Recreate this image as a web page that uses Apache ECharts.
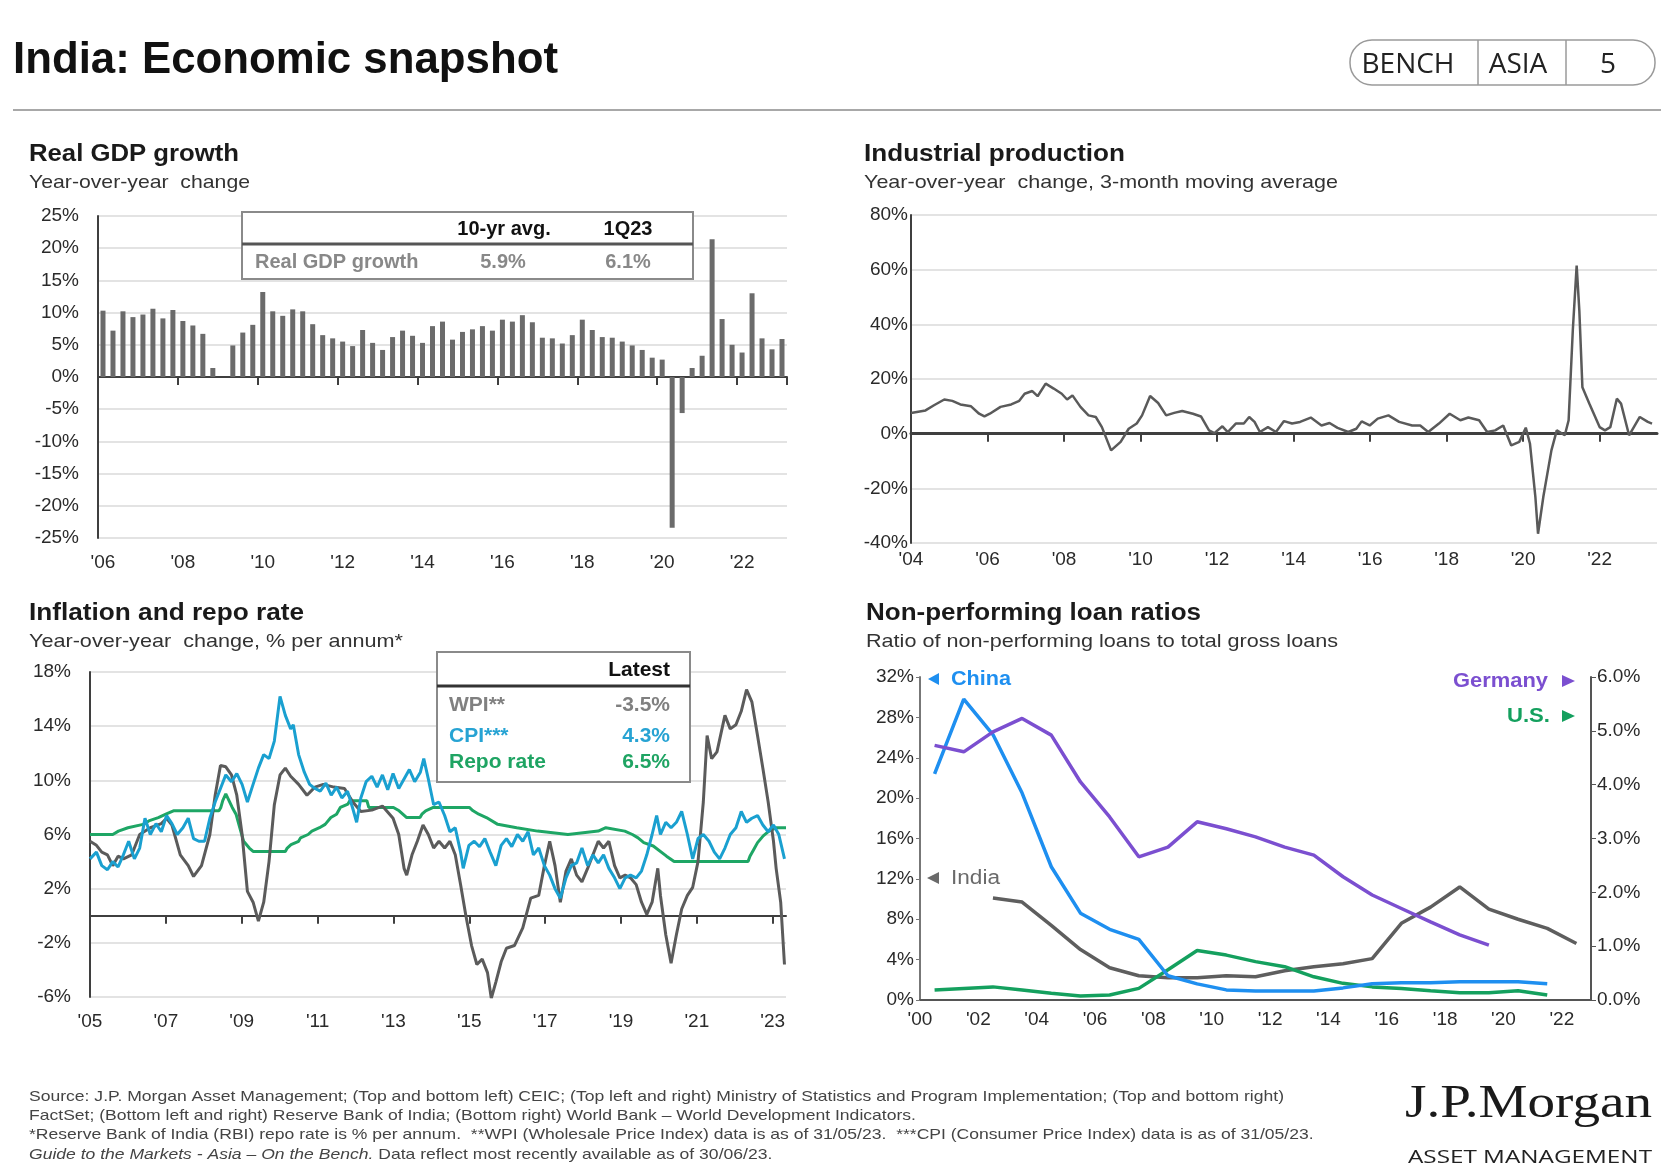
<!DOCTYPE html>
<html>
<head>
<meta charset="utf-8">
<script src="https://cdn.jsdelivr.net/npm/echarts@6/dist/echarts.min.js"></script>
<style>html,body{margin:0;padding:0;background:#fff}#c{width:1674px;height:1174px}</style>
</head>
<body>
<div id="c"></div>
<script>
// ---------------- DATA ----------------
// Real GDP growth, quarterly 1Q06 .. 1Q23 (% y/y)
const gdpStartYear = 2006;
const gdpGrowth = [10.3,7.2,10.2,9.3,9.7,10.6,9.1,10.4,8.7,8.0,
  6.7,1.4,0,4.9,6.9,8.1,13.2,10.2,9.5,10.5,
  10.2,8.2,6.5,6.0,5.5,4.8,7.3,5.3,4.2,6.2,
  7.2,6.4,5.3,7.9,8.6,5.8,7.0,7.4,7.9,7.2,
  8.9,8.6,9.6,8.5,6.1,6.0,5.2,6.5,8.9,7.3,
  6.2,6.1,5.5,4.9,4.2,3.0,2.7,-23.4,-5.6,1.4,
  3.3,21.4,9.0,5.0,3.8,13.0,6.0,4.3,5.9];
const gdpQuarters = gdpGrowth.map((_, i) => (i % 4 + 1) + 'Q' + String(gdpStartYear + Math.floor(i / 4)).slice(2));
const gdpTableHead = ['10-yr avg.', '1Q23'];
const gdpTableRow = ['Real GDP growth', '5.9%', '6.1%'];

// Industrial production, y/y 3mma (%)
const ipDates = [2004.00,2004.38,2004.59,2004.87,2005.08,2005.29,2005.57,2005.78,2005.92,2006.06,
  2006.34,2006.62,2006.83,2006.97,2007.17,2007.31,2007.52,2007.73,2007.94,2008.08,
  2008.22,2008.43,2008.64,2008.83,2008.99,2009.23,2009.48,2009.69,2009.90,2010.04,
  2010.25,2010.46,2010.67,2010.88,2011.09,2011.37,2011.58,2011.79,2011.93,2012.14,
  2012.28,2012.49,2012.70,2012.84,2012.98,2013.12,2013.33,2013.54,2013.75,2013.96,
  2014.17,2014.45,2014.73,2014.94,2015.15,2015.43,2015.64,2015.78,2015.99,2016.20,
  2016.48,2016.76,2017.10,2017.31,2017.52,2017.80,2018.08,2018.36,2018.57,2018.85,
  2019.06,2019.27,2019.48,2019.69,2019.90,2020.07,2020.18,2020.32,2020.39,2020.53,
  2020.74,2020.88,2021.09,2021.19,2021.30,2021.40,2021.47,2021.55,2021.73,2022.00,
  2022.14,2022.28,2022.45,2022.56,2022.77,2023.05,2023.26,2023.37];
const ipValues = [7.6,8.5,10.3,12.5,12.0,10.7,10.0,7.3,6.3,7.3,
  9.8,10.7,12.0,14.6,15.6,13.7,18.3,16.5,14.6,12.5,
  14.0,9.8,6.7,6.1,2.4,-6.1,-3.0,1.8,3.7,6.7,
  13.8,11.2,6.7,7.6,8.3,7.3,6.3,1.2,0.2,2.7,
  0.6,3.7,3.7,6.1,4.3,0.6,2.4,0.6,4.6,3.7,
  4.3,5.9,3.0,3.9,2.1,0.6,1.8,4.5,3.0,5.5,
  6.7,4.3,3.0,3.0,0.6,3.7,7.3,4.9,5.9,4.9,
  0.6,1.2,3.0,-4.3,-3.0,2.2,-3.7,-23.0,-36.6,-23.0,
  -6.1,1.2,-0.6,4.9,38.0,61.5,45.0,17.0,11.0,2.4,
  1.2,2.4,12.8,11.0,-0.6,6.1,4.3,3.7];

// Inflation and repo rate (%)
const wpiDates = [2005.00,2005.17,2005.31,2005.46,2005.60,2005.74,2005.88,2006.10,2006.31,2006.59,
  2006.88,2007.02,2007.16,2007.38,2007.59,2007.73,2007.94,2008.16,2008.30,2008.44,
  2008.58,2008.73,2008.87,2009.01,2009.15,2009.30,2009.44,2009.58,2009.72,2009.86,
  2010.01,2010.15,2010.29,2010.50,2010.72,2010.93,2011.15,2011.43,2011.71,2011.93,
  2012.14,2012.43,2012.71,2012.99,2013.14,2013.28,2013.35,2013.49,2013.63,2013.78,
  2013.92,2014.06,2014.20,2014.35,2014.49,2014.63,2014.77,2014.91,2015.06,2015.20,
  2015.34,2015.48,2015.58,2015.70,2015.84,2015.98,2016.19,2016.41,2016.62,2016.83,
  2016.98,2017.12,2017.26,2017.40,2017.55,2017.69,2017.83,2017.97,2018.12,2018.26,
  2018.40,2018.54,2018.68,2018.83,2018.97,2019.11,2019.25,2019.40,2019.54,2019.68,
  2019.82,2019.97,2020.04,2020.18,2020.32,2020.46,2020.60,2020.75,2020.89,2021.03,
  2021.17,2021.27,2021.39,2021.53,2021.74,2021.88,2022.03,2022.17,2022.31,2022.45,
  2022.60,2022.74,2022.88,2023.02,2023.09,2023.21,2023.31];
const wpiValues = [5.5,5.2,4.7,4.5,3.7,4.4,4.2,4.5,6.0,6.5,
  6.8,7.2,6.7,4.5,3.7,2.9,3.7,6.0,8.9,11.1,
  11.0,10.4,8.9,6.0,1.8,1.0,-0.4,1.0,4.0,8.2,
  10.4,10.9,10.3,9.7,8.9,9.5,9.7,9.5,9.4,8.4,
  7.7,7.8,8.1,7.2,6.0,3.5,3.0,4.5,5.5,6.7,
  6.0,5.0,5.5,5.0,5.5,4.5,2.3,0.0,-2.2,-3.6,
  -3.2,-4.2,-6.1,-4.9,-3.4,-2.4,-2.2,-0.9,1.3,1.5,
  3.7,5.5,3.7,1.0,3.3,4.2,3.0,2.5,3.5,4.5,
  5.5,5.0,5.5,3.7,2.8,3.0,2.8,2.3,1.0,0.1,
  1.0,3.5,1.5,-1.4,-3.5,-1.4,0.5,1.5,2.1,4.0,
  8.4,13.3,11.6,12.1,14.8,13.8,14.1,15.1,16.7,15.8,
  13.3,10.9,8.4,5.5,3.5,1.0,-3.6];
const cpiDates = [2005.00,2005.17,2005.31,2005.46,2005.60,2005.74,2005.88,2006.02,2006.17,2006.31,
  2006.45,2006.59,2006.74,2006.88,2007.02,2007.16,2007.30,2007.45,2007.59,2007.73,
  2007.87,2008.02,2008.16,2008.30,2008.44,2008.58,2008.73,2008.87,2009.01,2009.15,
  2009.30,2009.44,2009.58,2009.72,2009.86,2010.01,2010.15,2010.29,2010.36,2010.50,
  2010.65,2010.79,2010.93,2011.07,2011.22,2011.36,2011.50,2011.64,2011.79,2011.93,
  2012.03,2012.14,2012.28,2012.43,2012.57,2012.71,2012.85,2012.99,2013.14,2013.28,
  2013.42,2013.56,2013.71,2013.80,2013.92,2014.06,2014.20,2014.35,2014.49,2014.63,
  2014.77,2014.84,2014.99,2015.13,2015.27,2015.41,2015.55,2015.70,2015.84,2015.98,
  2016.12,2016.27,2016.41,2016.55,2016.69,2016.83,2016.98,2017.12,2017.26,2017.40,
  2017.55,2017.69,2017.83,2017.97,2018.12,2018.26,2018.40,2018.54,2018.68,2018.83,
  2018.97,2019.11,2019.25,2019.40,2019.54,2019.68,2019.82,2019.94,2020.04,2020.18,
  2020.32,2020.46,2020.60,2020.75,2020.89,2021.03,2021.17,2021.32,2021.46,2021.60,
  2021.74,2021.88,2022.03,2022.17,2022.31,2022.45,2022.60,2022.74,2022.88,2023.02,
  2023.16,2023.31];
const cpiValues = [4.2,4.7,3.7,3.4,4.0,3.6,4.5,5.5,4.2,5.0,
  7.2,6.0,6.8,6.2,7.4,6.8,6.0,6.5,7.2,5.7,
  5.5,5.5,7.2,8.4,9.4,10.4,9.9,10.5,9.7,8.4,
  9.7,10.9,11.9,11.6,12.9,16.2,14.8,13.8,14.1,11.9,
  10.6,9.7,9.4,9.2,9.8,8.9,9.5,8.7,9.2,7.9,
  6.9,8.7,9.9,10.3,9.5,10.4,9.3,10.5,9.4,10.1,
  10.8,9.9,10.6,11.6,10.1,8.2,8.4,7.4,6.2,6.5,
  4.7,3.5,5.2,5.5,5.1,5.7,4.7,3.7,5.2,5.7,
  5.1,6.0,5.5,6.2,4.5,5.0,3.7,3.0,2.0,1.3,
  2.8,3.7,3.9,5.0,3.7,4.5,3.9,4.5,3.5,2.8,
  2.0,2.8,3.0,2.8,3.3,4.5,6.0,7.4,6.0,6.9,
  6.5,6.9,7.7,6.0,4.2,5.7,6.0,5.5,4.7,4.2,
  5.0,6.0,6.5,7.7,6.9,7.2,7.4,6.7,6.2,6.7,
  6.0,4.2];
const repoDates = [2005.0,2005.6,2005.75,2006.0,2006.4,2006.55,2006.8,2007.0,2007.2,2008.4,
  2008.45,2008.5,2008.58,2008.75,2008.85,2008.95,2009.05,2009.2,2009.3,2010.15,
  2010.2,2010.3,2010.5,2010.55,2010.75,2010.85,2011.05,2011.2,2011.35,2011.5,
  2011.6,2011.8,2011.85,2012.3,2012.35,2013.0,2013.15,2013.35,2013.7,2013.75,
  2013.85,2014.05,2015.0,2015.1,2015.25,2015.45,2015.75,2016.25,2016.8,2017.6,
  2018.4,2018.6,2019.1,2019.3,2019.45,2019.6,2019.85,2020.2,2020.4,2022.35,
  2022.4,2022.5,2022.6,2022.75,2022.9,2023.1,2023.35];
const repoValues = [6.0,6.0,6.25,6.5,6.75,7.0,7.25,7.5,7.75,7.75,
  8.0,8.5,9.0,8.0,7.5,6.5,5.5,5.0,4.75,4.75,
  5.0,5.25,5.5,5.75,6.0,6.25,6.5,6.75,7.25,7.5,
  8.0,8.25,8.5,8.5,8.0,8.0,7.75,7.25,7.25,7.5,
  7.75,8.0,8.0,7.75,7.5,7.25,6.75,6.5,6.25,6.0,
  6.25,6.5,6.25,6.0,5.75,5.4,5.15,4.4,4.0,4.0,
  4.4,4.9,5.4,5.9,6.25,6.5,6.5];
const inflTableHead = 'Latest';
const inflTableRows = [['WPI**', '-3.5%'], ['CPI***', '4.3%'], ['Repo rate', '6.5%']];

// Non-performing loan ratios (% of gross loans), annual
const nplYears = [2000,2001,2002,2003,2004,2005,2006,2007,2008,2009,2010,2011,2012,2013,2014,2015,2016,2017,2018,2019,2020,2021,2022];
const chinaNPL = [22.4,29.8,26.3,20.5,13.2,8.6,7.0,6.0,2.4,1.6,1.0,0.9,0.9,0.9,1.2,1.6,1.7,1.7,1.8,1.8,1.8,1.6,null];
const indiaNPL = [null,null,10.1,9.7,7.4,5.0,3.2,2.4,2.2,2.2,2.4,2.3,2.9,3.3,3.6,4.1,7.6,9.2,11.2,9.0,8.0,7.1,5.6];
const germanyNPL = [4.73,4.61,4.98,5.23,4.92,4.05,3.40,2.66,2.84,3.31,3.18,3.03,2.84,2.69,2.29,1.95,1.70,1.45,1.21,1.02,null,null,null];
const usNPL = [1.0,1.15,1.3,1.0,0.66,0.4,0.5,1.15,3.0,4.9,4.45,3.8,3.3,2.3,1.65,1.3,1.15,0.92,0.73,0.73,0.92,0.5,null];

// ---------------- HELPERS ----------------
const FONT = "'Liberation Sans', Arial, sans-serif";
const SERIF = "'Liberation Serif', 'Times New Roman', serif";
const OPEN = "'Open Sans', 'Liberation Sans', sans-serif";
const mctx = document.createElement('canvas').getContext('2d');
function textWidth(str, size, weight, family, style) {
  mctx.font = (style || 'normal') + ' ' + (weight || 'normal') + ' ' + size + 'px ' + family;
  return mctx.measureText(str).width;
}
function txt(str, x, y, o) {
  o = o || {};
  const size = o.size || 16, weight = o.weight || 'normal', family = o.family || FONT, fstyle = o.style || 'normal';
  const sx = o.scale ? o.scale : (o.width ? o.width / textWidth(str, size, weight, family, fstyle) : 1);
  const al = o.align || 'left';
  return { type: 'text', x: x, y: y, scaleX: sx, z: 100, silent: true,
    style: { text: str, fontSize: size, fontWeight: weight, fontFamily: family, fontStyle: fstyle,
      fill: o.color || '#1a1a1a', textAlign: al, align: al, textVerticalAlign: 'middle', verticalAlign: 'middle' } };
}
function pairs(xs, ys, off) { const out = []; xs.forEach((x, i) => { if (ys[i] !== null && ys[i] !== undefined) out.push([x + (off || 0), ys[i]]); }); return out; }
function evenYears(a, b) { const r = []; for (let y = a; y <= b; y += 2) r.push(y); return r; }
const yy = v => "'" + String(Math.round(v)).slice(2);

const AX = '#3f3f3f', GRID = '#dadada', LBL = '#2a2a2a';
const axisLabelBase = { color: LBL, fontFamily: FONT, fontSize: 19 };

// ---------------- GRAPHICS ----------------
const g = [];
g.push(txt('India: Economic snapshot', 13, 61, { size: 44, weight: 'bold', width: 545, color: '#111' }));
g.push({ type: 'rect', z: 100, shape: { x: 1350, y: 40, width: 305, height: 45, r: 22 }, style: { fill: '#fff', stroke: '#9a9a9a', lineWidth: 1.5 } });
g.push({ type: 'line', z: 100, shape: { x1: 1478, y1: 40, x2: 1478, y2: 85 }, style: { stroke: '#9a9a9a', lineWidth: 1.5 } });
g.push({ type: 'line', z: 100, shape: { x1: 1566, y1: 40, x2: 1566, y2: 85 }, style: { stroke: '#9a9a9a', lineWidth: 1.5 } });
g.push(txt('BENCH', 1408, 65, { size: 28, family: OPEN, align: 'center', color: '#222' }));
g.push(txt('ASIA', 1518, 65, { size: 28, family: OPEN, align: 'center', color: '#222' }));
g.push(txt('5', 1608, 65, { size: 28, family: OPEN, align: 'center', color: '#222' }));
g.push({ type: 'line', z: 100, shape: { x1: 13, y1: 110, x2: 1661, y2: 110 }, style: { stroke: '#a8a8a8', lineWidth: 2 } });

// panel titles
g.push(txt('Real GDP growth', 29, 155, { size: 23, weight: 'bold', width: 210 }));
g.push(txt('Year-over-year  change', 29, 183, { size: 19, width: 221, color: '#333' }));
g.push(txt('Industrial production', 864, 155, { size: 23, weight: 'bold', width: 261 }));
g.push(txt('Year-over-year  change, 3-month moving average', 864, 183, { size: 19, width: 474, color: '#333' }));
g.push(txt('Inflation and repo rate', 29, 614, { size: 23, weight: 'bold', width: 275 }));
g.push(txt('Year-over-year  change, % per annum*', 29, 642, { size: 19, width: 374, color: '#333' }));
g.push(txt('Non-performing loan ratios', 866, 614, { size: 23, weight: 'bold', width: 335 }));
g.push(txt('Ratio of non-performing loans to total gross loans', 866, 642, { size: 19, width: 472, color: '#333' }));

// GDP table
g.push({ type: 'rect', z: 90, shape: { x: 242, y: 212, width: 451, height: 67 }, style: { fill: '#fff', stroke: '#8a8a8a', lineWidth: 2 } });
g.push({ type: 'line', z: 91, shape: { x1: 242, y1: 244, x2: 693, y2: 244 }, style: { stroke: '#555', lineWidth: 3 } });
g.push(txt(gdpTableHead[0], 504, 229, { size: 20, weight: 'bold', align: 'center', color: '#111' }));
g.push(txt(gdpTableHead[1], 628, 229, { size: 20, weight: 'bold', align: 'center', color: '#111' }));
g.push(txt(gdpTableRow[0], 255, 262, { size: 20, weight: 'bold', color: '#888' }));
g.push(txt(gdpTableRow[1], 503, 262, { size: 20, weight: 'bold', align: 'center', color: '#888' }));
g.push(txt(gdpTableRow[2], 628, 262, { size: 20, weight: 'bold', align: 'center', color: '#888' }));

// Inflation table
const inflColors = ['#808080', '#27a3d3', '#1fa463'];
const inflRowY = [705, 736, 762];
g.push({ type: 'rect', z: 90, shape: { x: 437, y: 652, width: 253, height: 130 }, style: { fill: '#fff', stroke: '#8a8a8a', lineWidth: 2 } });
g.push({ type: 'line', z: 91, shape: { x1: 437, y1: 686, x2: 690, y2: 686 }, style: { stroke: '#333', lineWidth: 3 } });
g.push(txt(inflTableHead, 670, 670, { size: 21, weight: 'bold', align: 'right', color: '#111' }));
inflTableRows.forEach((r, i) => {
  g.push(txt(r[0], 449, inflRowY[i], { size: 21, weight: 'bold', color: inflColors[i] }));
  g.push(txt(r[1], 670, inflRowY[i], { size: 21, weight: 'bold', align: 'right', color: inflColors[i] }));
});

// NPL labels
const CN = '#1e8ff0', IN = '#6a6a6a', DE = '#7b4fd0', US = '#14a05e';
g.push({ type: 'polygon', z: 100, shape: { points: [[928, 679], [939, 673], [939, 685]] }, style: { fill: CN } });
g.push(txt('China', 951, 679, { size: 20, weight: 'bold', width: 60, color: CN }));
g.push({ type: 'polygon', z: 100, shape: { points: [[927, 878], [939, 872], [939, 884]] }, style: { fill: IN } });
g.push(txt('India', 951, 878, { size: 20, width: 49, color: IN }));
g.push({ type: 'polygon', z: 100, shape: { points: [[1562, 675], [1562, 687], [1575, 681]] }, style: { fill: DE } });
g.push(txt('Germany', 1548, 681, { size: 20, weight: 'bold', width: 95, align: 'right', color: DE }));
g.push({ type: 'polygon', z: 100, shape: { points: [[1562, 710], [1562, 722], [1575, 716]] }, style: { fill: US } });
g.push(txt('U.S.', 1550, 716, { size: 20, weight: 'bold', width: 43, align: 'right', color: US }));

// Footer
const foot1 = 'Source: J.P. Morgan Asset Management; (Top and bottom left) CEIC; (Top left and right) Ministry of Statistics and Program Implementation; (Top and bottom right)';
const foot2 = 'FactSet; (Bottom left and right) Reserve Bank of India; (Bottom right) World Bank \u2013 World Development Indicators.';
const foot3 = '*Reserve Bank of India (RBI) repo rate is % per annum.  **WPI (Wholesale Price Index) data is as of 31/05/23.  ***CPI (Consumer Price Index) data is as of 31/05/23.';
const foot4a = 'Guide to the Markets - Asia \u2013 On the Bench.';
const foot4b = ' Data reflect most recently available as of 30/06/23.';
const FS = 15;
const fScale = 1255 / textWidth(foot1, FS, 'normal', FONT);
const FC = '#444';
const footY = [1097, 1116, 1135, 1155];
g.push(txt(foot1, 29, footY[0], { size: FS, scale: fScale, color: FC }));
g.push(txt(foot2, 29, footY[1], { size: FS, scale: fScale, color: FC }));
g.push(txt(foot3, 29, footY[2], { size: FS, scale: fScale, color: FC }));
g.push(txt(foot4a, 29, footY[3], { size: FS, scale: fScale, color: FC, style: 'italic' }));
const f4w = textWidth(foot4a, FS, 'normal', FONT, 'italic') * fScale;
g.push(txt(foot4b, 29 + f4w, footY[3], { size: FS, scale: fScale, color: FC }));

// Logo
g.push(txt('J.P.Morgan', 1405, 1105, { size: 47, family: SERIF, width: 247, color: '#1a1a1a' }));
g.push(txt('ASSET MANAGEMENT', 1408, 1158, { size: 19, family: OPEN, width: 244, color: '#222' }));

// ---------------- CHART ----------------
const chart = echarts.init(document.getElementById('c'), null, { renderer: 'canvas' });
const option = {
  backgroundColor: '#fff',
  animation: false,
  grid: [
    { left: 98, top: 216, width: 689, height: 322 },
    { left: 911, top: 215, width: 746, height: 328 },
    { left: 90, top: 672, width: 696, height: 325 },
    { left: 920, top: 677, width: 671, height: 323 }
  ],
  xAxis: [
    { type: 'category', gridIndex: 0, position: 'bottom', data: gdpQuarters,
      axisLine: { show: false, onZero: false }, axisTick: { show: false }, splitLine: { show: false },
      axisLabel: Object.assign({}, axisLabelBase, { interval: 7, margin: 15, formatter: v => "'" + v.slice(-2) }) },
    { type: 'category', gridIndex: 0, position: 'top', data: gdpQuarters,
      axisLine: { show: true, onZero: true, lineStyle: { color: AX, width: 2 } },
      axisTick: { show: true, inside: true, interval: 7, length: 8, lineStyle: { color: AX, width: 2 } },
      axisLabel: { show: false }, splitLine: { show: false } },
    { type: 'value', gridIndex: 1, position: 'bottom', min: 2004, max: 2023.5,
      axisLine: { show: false, onZero: false }, axisTick: { show: false }, splitLine: { show: false },
      axisLabel: Object.assign({}, axisLabelBase, { margin: 7, customValues: evenYears(2004, 2022), formatter: yy }) },
    { type: 'value', gridIndex: 1, position: 'top', min: 2004, max: 2023.5,
      axisLine: { show: true, onZero: true, lineStyle: { color: AX, width: 3 } },
      axisTick: { show: true, inside: true, length: 8, customValues: evenYears(2006, 2022), lineStyle: { color: AX, width: 2 } },
      axisLabel: { show: false }, splitLine: { show: false } },
    { type: 'value', gridIndex: 2, position: 'bottom', min: 2005, max: 2023.35,
      axisLine: { show: false, onZero: false }, axisTick: { show: false }, splitLine: { show: false },
      axisLabel: Object.assign({}, axisLabelBase, { margin: 15, customValues: evenYears(2005, 2023), formatter: yy }) },
    { type: 'value', gridIndex: 2, position: 'top', min: 2005, max: 2023.35,
      axisLine: { show: true, onZero: true, lineStyle: { color: AX, width: 2 } },
      axisTick: { show: true, inside: true, length: 8, customValues: evenYears(2007, 2023), lineStyle: { color: AX, width: 2 } },
      axisLabel: { show: false }, splitLine: { show: false } },
    { type: 'value', gridIndex: 3, position: 'bottom', min: 2000, max: 2023,
      axisLine: { show: true, onZero: false, lineStyle: { color: '#555', width: 2 } }, axisTick: { show: false }, splitLine: { show: false },
      axisLabel: Object.assign({}, axisLabelBase, { margin: 10, customValues: evenYears(2000, 2022), formatter: yy }) }
  ],
  yAxis: [
    { type: 'value', gridIndex: 0, min: -25, max: 25, interval: 5,
      axisLine: { show: true, onZero: false, lineStyle: { color: AX, width: 2 } }, axisTick: { show: false },
      splitLine: { show: true, lineStyle: { color: GRID, width: 1.5 } },
      axisLabel: Object.assign({}, axisLabelBase, { margin: 19, formatter: v => v + '%' }) },
    { type: 'value', gridIndex: 1, min: -40, max: 80, interval: 20,
      axisLine: { show: true, onZero: false, lineStyle: { color: AX, width: 2 } }, axisTick: { show: false },
      splitLine: { show: true, lineStyle: { color: GRID, width: 1.5 } },
      axisLabel: Object.assign({}, axisLabelBase, { margin: 3, formatter: v => v + '%' }) },
    { type: 'value', gridIndex: 2, min: -6, max: 18, interval: 4,
      axisLine: { show: true, onZero: false, lineStyle: { color: AX, width: 2 } }, axisTick: { show: false },
      splitLine: { show: true, lineStyle: { color: GRID, width: 1.5 } },
      axisLabel: Object.assign({}, axisLabelBase, { margin: 19, formatter: v => v + '%' }) },
    { type: 'value', gridIndex: 3, position: 'left', min: 0, max: 32, interval: 4,
      axisLine: { show: true, onZero: false, lineStyle: { color: '#777', width: 2 } }, axisTick: { show: true, length: 4, lineStyle: { color: '#777' } },
      splitLine: { show: false },
      axisLabel: Object.assign({}, axisLabelBase, { margin: 6, formatter: v => v + '%' }) },
    { type: 'value', gridIndex: 3, position: 'right', min: 0, max: 6, interval: 1,
      axisLine: { show: true, onZero: false, lineStyle: { color: '#555', width: 2 } }, axisTick: { show: true, length: 5, lineStyle: { color: '#555' } },
      splitLine: { show: false },
      axisLabel: Object.assign({}, axisLabelBase, { margin: 6, formatter: v => v.toFixed(1) + '%' }) }
  ],
  series: [
    { name: 'Real GDP growth', type: 'bar', xAxisIndex: 0, yAxisIndex: 0, data: gdpGrowth, barWidth: 5,
      itemStyle: { color: '#6b6b6b' } },
    { name: 'Industrial production', type: 'line', xAxisIndex: 2, yAxisIndex: 1, data: pairs(ipDates, ipValues),
      symbol: 'none', lineStyle: { color: '#5a5a5a', width: 2.5 } },
    { name: 'Repo rate', type: 'line', xAxisIndex: 4, yAxisIndex: 2, data: pairs(repoDates, repoValues),
      symbol: 'none', lineStyle: { color: '#1ea665', width: 3 } },
    { name: 'WPI', type: 'line', xAxisIndex: 4, yAxisIndex: 2, data: pairs(wpiDates, wpiValues),
      symbol: 'none', lineStyle: { color: '#5b5b5b', width: 3 } },
    { name: 'CPI', type: 'line', xAxisIndex: 4, yAxisIndex: 2, data: pairs(cpiDates, cpiValues),
      symbol: 'none', lineStyle: { color: '#1aa0d0', width: 3 } },
    { name: 'India', type: 'line', xAxisIndex: 6, yAxisIndex: 3, data: pairs(nplYears, indiaNPL, 0.5),
      symbol: 'none', lineStyle: { color: '#5e5e5e', width: 3.5 } },
    { name: 'U.S.', type: 'line', xAxisIndex: 6, yAxisIndex: 3, data: pairs(nplYears, usNPL, 0.5),
      symbol: 'none', lineStyle: { color: US, width: 3.5 } },
    { name: 'China', type: 'line', xAxisIndex: 6, yAxisIndex: 3, data: pairs(nplYears, chinaNPL, 0.5),
      symbol: 'none', lineStyle: { color: CN, width: 3.5 } },
    { name: 'Germany', type: 'line', xAxisIndex: 6, yAxisIndex: 4, data: pairs(nplYears, germanyNPL, 0.5),
      symbol: 'none', lineStyle: { color: DE, width: 3.5 } }
  ],
  graphic: g
};
chart.setOption(option);
</script>
</body>
</html>
